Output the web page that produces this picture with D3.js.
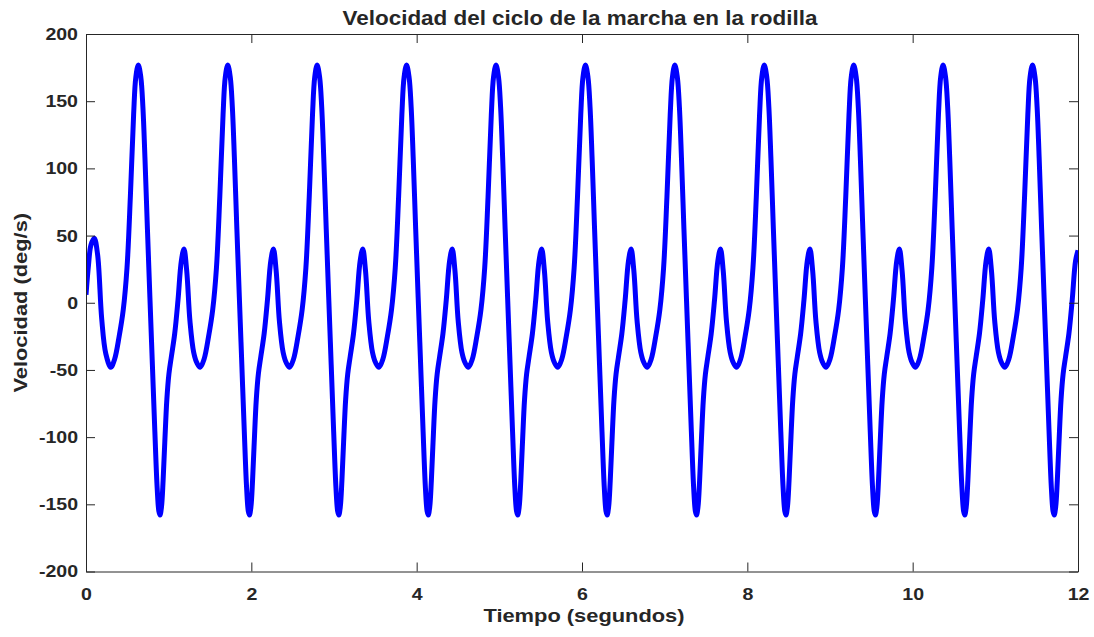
<!DOCTYPE html>
<html>
<head>
<meta charset="utf-8">
<script src="https://cdn.jsdelivr.net/npm/d3@7"></script>
<style>
  body { margin: 0; background: #fff; }
  text { font-family: "Liberation Sans", Arial, sans-serif; font-weight: bold; fill: #262626; }
</style>
</head>
<body>
<div id="chart"></div>
<script>
// Tiempo (s) y velocidad (deg/s)
var tiempo = [
  0, 0.03, 0.06, 0.10, 0.14, 0.19, 0.24, 0.30, 0.346, 0.401, 0.451, 0.496, 0.536, 0.576, 0.603,
  0.633, 0.663, 0.688, 0.713, 0.743, 0.773, 0.803, 0.833, 0.861, 0.881, 0.895, 0.913, 0.933, 0.953, 0.978, 1.003, 1.033, 1.073, 1.113, 1.153, 1.185, 1.218, 1.258, 1.303, 1.343, 1.381, 1.428, 1.483, 1.533, 1.578, 1.618, 1.658, 1.685,
  1.715, 1.745, 1.770, 1.795, 1.825, 1.855, 1.885, 1.915, 1.943, 1.963, 1.977, 1.995, 2.015, 2.035, 2.060, 2.085, 2.115, 2.155, 2.195, 2.235, 2.267, 2.300, 2.340, 2.385, 2.425, 2.463, 2.510, 2.565, 2.615, 2.660, 2.700, 2.740, 2.767,
  2.796, 2.826, 2.851, 2.876, 2.906, 2.936, 2.966, 2.996, 3.024, 3.044, 3.058, 3.076, 3.096, 3.116, 3.141, 3.166, 3.196, 3.236, 3.276, 3.316, 3.348, 3.381, 3.421, 3.466, 3.506, 3.544, 3.591, 3.646, 3.696, 3.741, 3.781, 3.821, 3.848,
  3.878, 3.908, 3.933, 3.958, 3.988, 4.018, 4.048, 4.078, 4.106, 4.126, 4.140, 4.158, 4.178, 4.198, 4.223, 4.248, 4.278, 4.318, 4.358, 4.398, 4.430, 4.463, 4.503, 4.548, 4.588, 4.626, 4.673, 4.728, 4.778, 4.823, 4.863, 4.903, 4.930,
  4.960, 4.990, 5.015, 5.040, 5.070, 5.100, 5.130, 5.160, 5.188, 5.208, 5.222, 5.240, 5.260, 5.280, 5.305, 5.330, 5.360, 5.400, 5.440, 5.480, 5.512, 5.545, 5.585, 5.630, 5.670, 5.708, 5.755, 5.810, 5.860, 5.905, 5.945, 5.985, 6.012,
  6.042, 6.072, 6.097, 6.122, 6.152, 6.182, 6.212, 6.242, 6.270, 6.290, 6.304, 6.322, 6.342, 6.362, 6.387, 6.412, 6.442, 6.482, 6.522, 6.562, 6.594, 6.627, 6.667, 6.712, 6.752, 6.790, 6.837, 6.892, 6.942, 6.987, 7.027, 7.067, 7.094,
  7.123, 7.153, 7.178, 7.203, 7.233, 7.263, 7.293, 7.323, 7.351, 7.371, 7.385, 7.403, 7.423, 7.443, 7.468, 7.493, 7.523, 7.563, 7.603, 7.643, 7.675, 7.708, 7.748, 7.793, 7.833, 7.871, 7.918, 7.973, 8.023, 8.068, 8.108, 8.148, 8.175,
  8.205, 8.235, 8.260, 8.285, 8.315, 8.345, 8.375, 8.405, 8.433, 8.453, 8.467, 8.485, 8.505, 8.525, 8.550, 8.575, 8.605, 8.645, 8.685, 8.725, 8.757, 8.790, 8.830, 8.875, 8.915, 8.953, 9.000, 9.055, 9.105, 9.150, 9.190, 9.230, 9.257,
  9.287, 9.317, 9.342, 9.367, 9.397, 9.427, 9.457, 9.487, 9.515, 9.535, 9.549, 9.567, 9.587, 9.607, 9.632, 9.657, 9.687, 9.727, 9.767, 9.807, 9.839, 9.872, 9.912, 9.957, 9.997, 10.035, 10.082, 10.137, 10.187, 10.232, 10.272, 10.312, 10.339,
  10.368, 10.398, 10.423, 10.448, 10.478, 10.508, 10.538, 10.568, 10.596, 10.616, 10.630, 10.648, 10.668, 10.688, 10.713, 10.738, 10.768, 10.808, 10.848, 10.888, 10.920, 10.953, 10.993, 11.038, 11.078, 11.116, 11.163, 11.218, 11.268, 11.313, 11.353, 11.393, 11.420,
  11.450, 11.480, 11.505, 11.530, 11.560, 11.590, 11.620, 11.650, 11.678, 11.698, 11.712, 11.730, 11.750, 11.770, 11.795, 11.820, 11.850, 11.890, 11.930, 11.970, 12.000
]
var velocidad = [
  6, 28, 43, 48, 36, -12, -38, -48, -42, -25, -5, 26, 78, 140, 168,
  177, 168, 146, 108, 55, 4, -46, -96, -138, -155, -158, -152, -132, -104, -72, -53, -40, -23, 2, 31, 40, 24, -14, -37, -45, -48, -42, -25, -5, 26, 78, 140, 168,
  177, 168, 146, 108, 55, 4, -46, -96, -138, -155, -158, -152, -132, -104, -72, -53, -40, -23, 2, 31, 40, 24, -14, -37, -45, -48, -42, -25, -5, 26, 78, 140, 168,
  177, 168, 146, 108, 55, 4, -46, -96, -138, -155, -158, -152, -132, -104, -72, -53, -40, -23, 2, 31, 40, 24, -14, -37, -45, -48, -42, -25, -5, 26, 78, 140, 168,
  177, 168, 146, 108, 55, 4, -46, -96, -138, -155, -158, -152, -132, -104, -72, -53, -40, -23, 2, 31, 40, 24, -14, -37, -45, -48, -42, -25, -5, 26, 78, 140, 168,
  177, 168, 146, 108, 55, 4, -46, -96, -138, -155, -158, -152, -132, -104, -72, -53, -40, -23, 2, 31, 40, 24, -14, -37, -45, -48, -42, -25, -5, 26, 78, 140, 168,
  177, 168, 146, 108, 55, 4, -46, -96, -138, -155, -158, -152, -132, -104, -72, -53, -40, -23, 2, 31, 40, 24, -14, -37, -45, -48, -42, -25, -5, 26, 78, 140, 168,
  177, 168, 146, 108, 55, 4, -46, -96, -138, -155, -158, -152, -132, -104, -72, -53, -40, -23, 2, 31, 40, 24, -14, -37, -45, -48, -42, -25, -5, 26, 78, 140, 168,
  177, 168, 146, 108, 55, 4, -46, -96, -138, -155, -158, -152, -132, -104, -72, -53, -40, -23, 2, 31, 40, 24, -14, -37, -45, -48, -42, -25, -5, 26, 78, 140, 168,
  177, 168, 146, 108, 55, 4, -46, -96, -138, -155, -158, -152, -132, -104, -72, -53, -40, -23, 2, 31, 40, 24, -14, -37, -45, -48, -42, -25, -5, 26, 78, 140, 168,
  177, 168, 146, 108, 55, 4, -46, -96, -138, -155, -158, -152, -132, -104, -72, -53, -40, -23, 2, 31, 40, 24, -14, -37, -45, -48, -42, -25, -5, 26, 78, 140, 168,
  177, 168, 146, 108, 55, 4, -46, -96, -138, -155, -158, -152, -132, -104, -72, -53, -40, -23, 2, 31, 39
]
var xTicks = [0, 2, 4, 6, 8, 10, 12]
var yTicks = [-200, -150, -100, -50, 0, 50, 100, 150, 200]

var titulo = "Velocidad del ciclo de la marcha en la rodilla"
var etiquetaX = "Tiempo (segundos)"
var etiquetaY = "Velocidad (deg/s)"

// the reference text is a bit wider than Liberation Sans, stretch it
function stretch(sel, factor){
    sel.each(function(){
        var len = this.getComputedTextLength()
        d3.select(this)
          .attr("textLength", len * factor)
          .attr("lengthAdjust", "spacingAndGlyphs")
    })
}

window.onload = function(){
    var width = 1094, height = 637
    var margin = {top: 34, right: 16, bottom: 65.5, left: 86}
    var w = width - margin.left - margin.right,
        h = height - margin.top - margin.bottom

    var svg = d3.select("#chart").append("svg")
                .attr("width", width)
                .attr("height", height)

    var x = d3.scaleLinear().domain([0, 12]).range([0, w])
    var y = d3.scaleLinear().domain([-200, 200]).range([h, 0])

    var g = svg.append("g")
               .attr("transform", "translate(" + margin.left + "," + margin.top + ")")

    var datos = tiempo.map(function(t, i){ return {t: t, v: velocidad[i]} })

    // clip so the thick line stays inside the box
    g.append("clipPath").attr("id", "clip")
     .append("rect").attr("x", 0).attr("y", 0).attr("width", w).attr("height", h)

    var linea = d3.line()
                  .x(d => x(d.t))
                  .y(d => y(d.v))
                  .curve(d3.curveCatmullRom.alpha(0.5))

    g.append("path")
     .datum(datos)
     .attr("clip-path", "url(#clip)")
     .attr("d", linea)
     .attr("fill", "none")
     .attr("stroke", "#0000ff")
     .attr("stroke-width", 5)
     .attr("stroke-linejoin", "round")

    // axes with inward ticks on all four sides
    var tickLen = 9
    var fmt = d => String(d)
    g.append("g").attr("transform", "translate(0," + h + ")")
     .call(d3.axisBottom(x).tickValues(xTicks).tickFormat(fmt).tickSizeInner(-tickLen).tickSizeOuter(0).tickPadding(16))
    g.append("g")
     .call(d3.axisTop(x).tickValues(xTicks).tickSizeInner(-tickLen).tickSizeOuter(0).tickFormat(""))
    g.append("g")
     .call(d3.axisLeft(y).tickValues(yTicks).tickFormat(fmt).tickSizeInner(-tickLen).tickSizeOuter(0).tickPadding(8))
    g.append("g").attr("transform", "translate(" + w + ",0)")
     .call(d3.axisRight(y).tickValues(yTicks).tickSizeInner(-tickLen).tickSizeOuter(0).tickFormat(""))

    svg.selectAll(".domain").attr("stroke", "#262626").attr("stroke-width", 1)
    svg.selectAll(".tick line").attr("stroke", "#262626").attr("stroke-width", 1)
    svg.selectAll(".tick text")
       .style("font-family", "'Liberation Sans', Arial, sans-serif")
       .style("font-weight", "bold")
       .style("font-size", "17px")
       .attr("fill", "#262626")
       .call(stretch, 1.15)

    // title and labels
    svg.append("text")
       .attr("x", 580)
       .attr("y", 25)
       .attr("text-anchor", "middle")
       .style("font-size", "19.5px")
       .text(titulo)
       .call(stretch, 1.15)

    svg.append("text")
       .attr("x", 584)
       .attr("y", 622)
       .attr("text-anchor", "middle")
       .style("font-size", "19px")
       .text(etiquetaX)
       .call(stretch, 1.15)

    svg.append("text")
       .attr("transform", "translate(27," + (margin.top + h / 2) + ") rotate(-90)")
       .attr("text-anchor", "middle")
       .style("font-size", "19px")
       .text(etiquetaY)
       .call(stretch, 1.15)
}
</script>
</body>
</html>
